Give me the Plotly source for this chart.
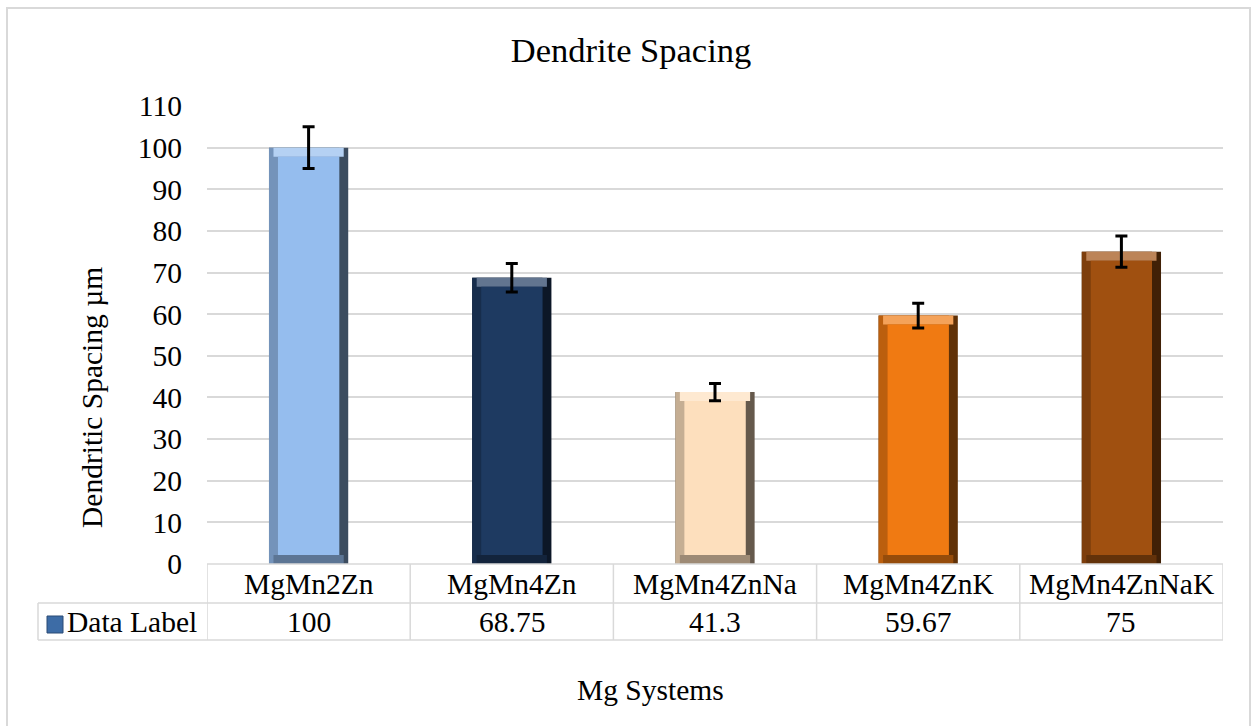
import plotly.graph_objects as go

# Chart data
categories = ["MgMn2Zn", "MgMn4Zn", "MgMn4ZnNa", "MgMn4ZnK", "MgMn4ZnNaK"]
spacing = [100, 68.75, 41.3, 59.67, 75]
value_labels = ["100", "68.75", "41.3", "59.67", "75"]
error_percent = 5
y_ticks = list(range(0, 111, 10))

bar_colors = ["#95BDEE", "#1E3A61", "#FDDFBD", "#F07A12", "#A05010"]

FONT = "Liberation Serif"
FS = 29.5
GRID = "#D9D9D9"

# Plot-area geometry (pixels) used to convert bevel sizes into axis units
L, R, T, B = 207, 30, 106, 162
W, H = 1253, 726
plot_w = W - L - R
plot_h = H - T - B
y_max = 110
px_per_cat = plot_w / len(categories)
px_per_unit = plot_h / y_max

bar_w = 0.39
bevel_px = 9
bx = bevel_px / px_per_cat
by = bevel_px / px_per_unit


def shade(hex_color, f):
    h = hex_color.lstrip("#")
    r, g, b = (int(h[i:i + 2], 16) for i in (0, 2, 4))
    if f >= 1:
        t = f - 1
        r, g, b = (round(c + (255 - c) * t) for c in (r, g, b))
    else:
        r, g, b = (round(c * f) for c in (r, g, b))
    return f"rgb({r},{g},{b})"


fig = go.Figure()

# Bevelled bars built from stacked layers of the same values
fig.add_trace(go.Bar(x=categories, y=spacing, width=bar_w,
                     marker=dict(color=[shade(c, 0.4) for c in bar_colors], line_width=0),
                     hoverinfo="skip", showlegend=False))
fig.add_trace(go.Bar(x=categories, y=spacing, width=bar_w - bx, offset=-bar_w / 2,
                     marker=dict(color=[shade(c, 0.78) for c in bar_colors], line_width=0),
                     hoverinfo="skip", showlegend=False))
fig.add_trace(go.Bar(x=categories, y=[by] * len(spacing), base=[v - by for v in spacing],
                     width=bar_w - bx, offset=-bar_w / 2 + bx / 2,
                     marker=dict(color=[shade(c, 1.3) for c in bar_colors], line_width=0),
                     hoverinfo="skip", showlegend=False))
fig.add_trace(go.Bar(x=categories, y=[by] * len(spacing), base=0,
                     width=bar_w - bx, offset=-bar_w / 2 + bx / 2,
                     marker=dict(color=[shade(c, 0.62) for c in bar_colors], line_width=0),
                     hoverinfo="skip", showlegend=False))
fig.add_trace(go.Bar(x=categories, y=[v - 2 * by for v in spacing], base=by,
                     width=bar_w - 2 * bx, offset=-bar_w / 2 + bx,
                     marker=dict(color=bar_colors, line_width=0),
                     hoverinfo="skip", showlegend=False))
# Value carrier with 5 % error bars
fig.add_trace(go.Bar(x=categories, y=spacing, width=bar_w, name="Data Label",
                     marker=dict(color="rgba(0,0,0,0)", line_width=0),
                     error_y=dict(type="percent", value=error_percent, color="black",
                                  thickness=3, width=6),
                     showlegend=False))

shapes = []
line_style = dict(color=GRID, width=1.5)


def py(pixel_y):
    return (H - B - pixel_y) / plot_h


def px(pixel_x):
    return (pixel_x - L) / plot_w


# Data table grid below the plot
row1, row2 = py(603), py(640)
table_left = px(38)
for yy in (row1, row2):
    shapes.append(dict(type="line", xref="paper", yref="paper", x0=table_left, x1=1,
                       y0=yy, y1=yy, line=line_style))
shapes.append(dict(type="line", xref="paper", yref="paper", x0=0, x1=1,
                   y0=0, y1=0, line=line_style))
for i in range(len(categories) + 1):
    shapes.append(dict(type="line", xref="x", yref="paper", x0=i - 0.5, x1=i - 0.5,
                       y0=0, y1=row2, line=line_style))
shapes.append(dict(type="line", xref="paper", yref="paper", x0=table_left, x1=table_left,
                   y0=row1, y1=row2, line=line_style))
# Legend key in the table
shapes.append(dict(type="rect", xref="paper", yref="paper", x0=px(47), x1=px(63),
                   y0=py(633), y1=py(616), fillcolor="#3D6CA6",
                   line=dict(color="#2A4B75", width=1)))
# Chart outer border
shapes.append(dict(type="rect", xref="paper", yref="paper", x0=px(7), x1=px(1250),
                   y0=py(760), y1=py(8), fillcolor="rgba(0,0,0,0)",
                   line=dict(color=GRID, width=2)))

text_font = dict(family=FONT, size=FS, color="black")
annotations = []
for i, (cat, lab) in enumerate(zip(categories, value_labels)):
    annotations.append(dict(x=i, xref="x", y=(0 + row1) / 2, yref="paper", text=cat,
                            showarrow=False, font=text_font,
                            xanchor="center", yanchor="middle"))
    annotations.append(dict(x=i, xref="x", y=(row1 + row2) / 2, yref="paper", text=lab,
                            showarrow=False, font=text_font,
                            xanchor="center", yanchor="middle"))
annotations.append(dict(x=px(65), xref="paper", y=(row1 + row2) / 2, yref="paper",
                        text="Data Label", showarrow=False, font=text_font,
                        xanchor="left", yanchor="middle"))
annotations.append(dict(x=px(92), xref="paper", y=py(398), yref="paper",
                        text="Dendritic Spacing µm", textangle=-90, showarrow=False,
                        font=text_font, xanchor="center", yanchor="middle"))
annotations.append(dict(x=px(650), xref="paper", y=py(690), yref="paper",
                        text="Mg Systems", showarrow=False, font=text_font,
                        xanchor="center", yanchor="middle"))

fig.update_layout(
    width=W, height=H,
    margin=dict(l=L, r=R, t=T, b=B),
    paper_bgcolor="white", plot_bgcolor="white",
    barmode="overlay",
    title=dict(text="Dendrite Spacing", x=631 / W, xanchor="center",
               y=1 - 50 / H, yanchor="middle",
               font=dict(family=FONT, size=34.5, color="black")),
    xaxis=dict(type="category", range=[-0.5, len(categories) - 0.5],
               showticklabels=False, showgrid=False, zeroline=False, showline=False,
               ticks=""),
    yaxis=dict(range=[0, y_max], tickvals=y_ticks, showgrid=True, gridcolor=GRID,
               gridwidth=1.5, zeroline=False, showline=False, ticks="",
               ticklabelstandoff=24,
               tickfont=text_font),
    shapes=shapes,
    annotations=annotations,
)

fig.write_html("out.html")
